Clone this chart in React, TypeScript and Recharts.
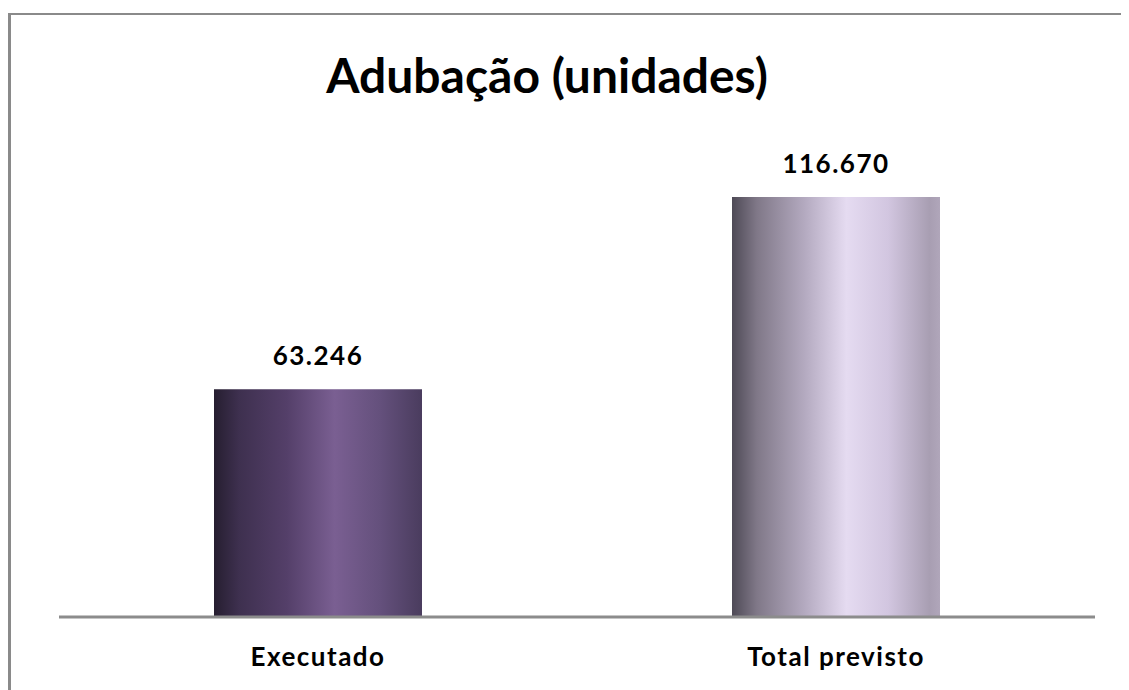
import React from "react";
import { BarChart, Bar, XAxis, YAxis, Cell, LabelList } from "recharts";

const categories = ["Executado", "Total previsto"];
const values = [63246, 116670];
const valueLabels = ["63.246", "116.670"];
const title = "Adubação (unidades)";

const data = categories.map((c, i) => ({ name: c, value: values[i], label: valueLabels[i] }));

export default function App() {
  return (
    <div style={{ position: "relative", width: 1121, height: 682, background: "#fff" }}>
      <div
        style={{
          position: "absolute",
          left: 0,
          top: 5,
          width: 1121,
          height: 677,
          borderTop: "2px solid #8a8a8a",
          borderLeft: "3px solid #8a8a8a",
          boxSizing: "border-box",
        }}
      />
      <div
        style={{
          position: "absolute",
          left: 0,
          width: 1078,
          top: 37,
          textAlign: "center",
          fontFamily: "Lato, 'Open Sans', sans-serif",
          fontWeight: 700,
          fontSize: 48,
          lineHeight: "60px",
          color: "#000",
        }}
      >
        {title}
      </div>
      <BarChart
        width={1121}
        height={682}
        data={data}
        margin={{ top: 105, right: 34, bottom: 35, left: 51 }}
        style={{ position: "absolute", left: 0, top: 0 }}
      >
        <defs>
          <linearGradient id="g1" x1="0" y1="0" x2="1" y2="0">
            <stop offset="0%" stopColor="#261e30" />
            <stop offset="12%" stopColor="#3e304f" />
            <stop offset="35%" stopColor="#543f69" />
            <stop offset="58%" stopColor="#7a5f92" />
            <stop offset="80%" stopColor="#64507c" />
            <stop offset="100%" stopColor="#4a3c5e" />
          </linearGradient>
          <linearGradient id="g2" x1="0" y1="0" x2="1" y2="0">
            <stop offset="0%" stopColor="#4e4a56" />
            <stop offset="12%" stopColor="#807888" />
            <stop offset="35%" stopColor="#b4aac0" />
            <stop offset="55%" stopColor="#e5dbf1" />
            <stop offset="75%" stopColor="#d2c6e0" />
            <stop offset="95%" stopColor="#a89eb2" />
            <stop offset="100%" stopColor="#b0a6ba" />
          </linearGradient>
        </defs>
        <XAxis
          dataKey="name"
          height={38}
          axisLine={{ stroke: "#8c8c8c", strokeWidth: 3 }}
          tickLine={false}
          tick={{ fill: "#000", fontSize: 26, fontWeight: 700, fontFamily: "Lato, sans-serif", letterSpacing: 1.5 }}
          tickMargin={25}
          interval={0}
        />
        <YAxis hide domain={[0, 140000]} />
        <Bar dataKey="value" barSize={208} isAnimationActive={false}>
          <Cell fill="url(#g1)" />
          <Cell fill="url(#g2)" />
          <LabelList
            dataKey="label"
            position="top"
            offset={24}
            style={{ fill: "#000", fontSize: 26, fontWeight: 700, fontFamily: "Lato, sans-serif", letterSpacing: 1.5 }}
          />
        </Bar>
      </BarChart>
    </div>
  );
}
